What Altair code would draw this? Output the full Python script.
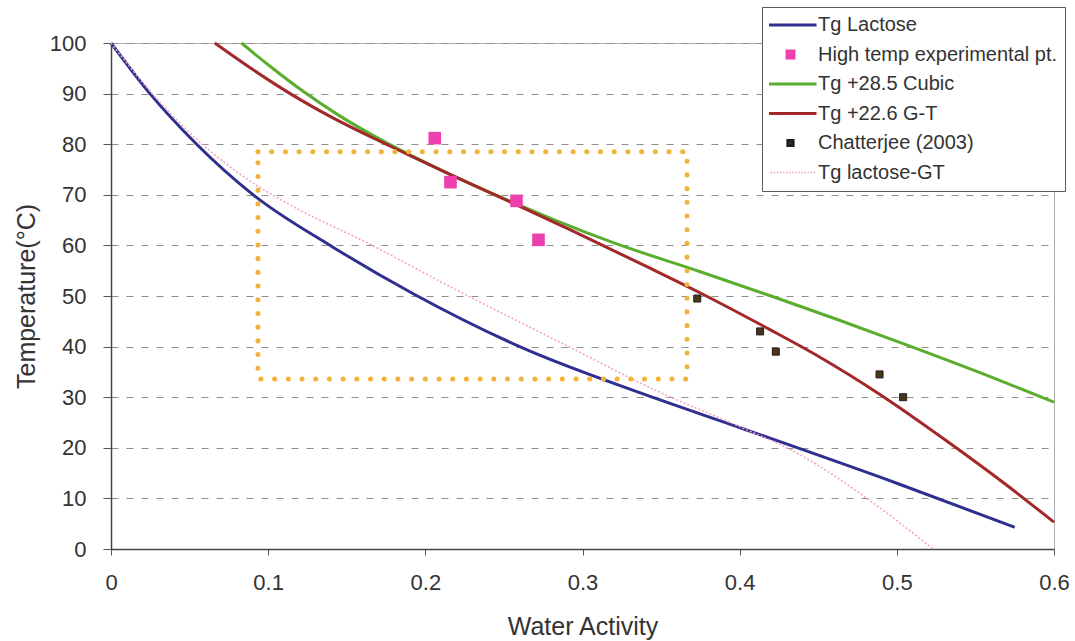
import altair as alt
import pandas as pd

# Glass transition curves: water activity vs temperature (°C)
aw_tg_lactose = [0.0, 0.0248, 0.0545, 0.0905, 0.141, 0.192, 0.26, 0.34, 0.4, 0.5, 0.575]
t_tg_lactose = [100, 90, 80, 70, 59.7, 50.5, 40, 30.5, 24, 13, 4.3]

aw_cubic = [0.083, 0.1, 0.122, 0.145, 0.171, 0.216, 0.258, 0.284, 0.32, 0.375, 0.42, 0.504, 0.55, 0.6]
t_cubic = [100, 95.7, 90.5, 85.7, 81, 74, 68.2, 64.8, 60.5, 54.8, 50, 40.6, 35.2, 29]

aw_gt_shift = [0.066, 0.09, 0.114, 0.14, 0.171, 0.188, 0.216, 0.258, 0.294, 0.343, 0.375, 0.419, 0.45, 0.489, 0.532, 0.57, 0.6]
t_gt_shift = [100, 94.8, 90, 85.4, 80.6, 78.1, 74, 68, 62.8, 55.5, 50.6, 43.4, 38.1, 30.6, 21.3, 12.6, 5.3]

aw_lactose_gt = [0.0, 0.0248, 0.0545, 0.092, 0.114, 0.163, 0.224, 0.288, 0.349, 0.399, 0.438, 0.481, 0.523]
t_lactose_gt = [100, 90.5, 81, 72, 68, 60.5, 50.5, 40.5, 31, 24.3, 18.7, 10.0, 0]

# Measured points
aw_high_temp = [0.206, 0.216, 0.258, 0.272]
t_high_temp = [81.2, 72.5, 68.8, 61.1]

aw_chatterjee = [0.373, 0.413, 0.423, 0.489, 0.504]
t_chatterjee = [49.5, 43.0, 39.0, 34.5, 30.0]

# Highlighted processing window
box_aw = [0.0935, 0.3665]
box_t = [33.6, 78.5]

series_names = [
    "Tg Lactose",
    "High temp experimental pt.",
    "Tg +28.5 Cubic",
    "Tg +22.6 G-T",
    "Chatterjee (2003)",
    "Tg lactose-GT",
]
BLUE, PINK, GREEN, RED, BROWN, LIGHT_PINK = (
    "#2f2f8f", "#ee3fae", "#5aad2e", "#a3282a", "#4a3418", "#f2a0c4")
OUTLINE = "#1e1e1e"

x_ticks = [0, 0.1, 0.2, 0.3, 0.4, 0.5, 0.6]
y_ticks = [0, 10, 20, 30, 40, 50, 60, 70, 80, 90, 100]

FONT = "Liberation Sans"
TEXT = "#333333"

# Symbol outlines (unit square space, scaled by the legend/mark size)
LINE_SYMBOL = "M-1,0H1"
BIG_SQUARE = "M-0.19,-0.19H0.19V0.19H-0.19Z"
SMALL_SQUARE = "M-0.1,-0.1H0.1V0.1H-0.1Z"
DOTS_SYMBOL = " ".join(
    f"M{-1 + k * 0.118:.3f},-0.03h0.06v0.06h-0.06Z" for k in range(17)
)


def frame(name, xs, ys):
    return pd.DataFrame({"series": name, "aw": xs, "T": ys})


solid_lines = pd.concat([
    frame(series_names[0], aw_tg_lactose, t_tg_lactose),
    frame(series_names[2], aw_cubic, t_cubic),
    frame(series_names[3], aw_gt_shift, t_gt_shift),
])
dotted_line = frame(series_names[5], aw_lactose_gt, t_lactose_gt)
high_temp = frame(series_names[1], aw_high_temp, t_high_temp)
chatterjee = frame(series_names[4], aw_chatterjee, t_chatterjee)
window = pd.DataFrame({"aw": [box_aw[0]], "aw_end": [box_aw[1]],
                       "T": [box_t[0]], "T_end": [box_t[1]]})

x_enc = alt.X(
    "aw:Q",
    title="Water Activity",
    scale=alt.Scale(domain=[0, 0.6], nice=False, zero=False),
    axis=alt.Axis(
        values=x_ticks,
        labelExpr="datum.value == 0 ? '0' : format(datum.value, '.1f')",
        grid=False,
        tickSize=6,
        tickColor="#555555",
        domainColor="#444444",
        domainWidth=1.5,
        labelFont=FONT,
        labelFontSize=22,
        labelColor=TEXT,
        labelPadding=17,
        labelFlush=False,
        titleFont=FONT,
        titleFontSize=25,
        titleFontWeight="normal",
        titleColor=TEXT,
        titlePadding=21,
    ),
)
y_enc = alt.Y(
    "T:Q",
    title="Temperature(°C)",
    scale=alt.Scale(domain=[0, 100], nice=False),
    axis=alt.Axis(
        values=y_ticks,
        grid=True,
        gridDash=[7, 8],
        gridColor="#8f8f8f",
        gridWidth=1,
        tickSize=8,
        tickColor="#555555",
        domainColor="#444444",
        domainWidth=1.5,
        labelFont=FONT,
        labelFontSize=22,
        labelColor=TEXT,
        labelPadding=17,
        labelFlush=False,
        titleFont=FONT,
        titleFontSize=25,
        titleFontWeight="normal",
        titleColor=TEXT,
        titlePadding=10,
    ),
)


def make_legend():
    return alt.Legend(
        title=None,
        orient="none",
        legendX=651,
        legendY=-36,
        direction="vertical",
        fillColor="white",
        strokeColor="#5a5a5a",
        padding=7,
        symbolSize=2704,
        symbolStrokeWidth=3,
        symbolOffset=-6,
        labelOffset=0,
        clipHeight=22,
        rowPadding=7.5,
        labelFont=FONT,
        labelFontSize=20,
        labelColor=TEXT,
        labelLimit=400,
    )


stroke_enc = alt.Stroke(
    "series:N",
    scale=alt.Scale(domain=series_names,
                    range=[BLUE, "transparent", GREEN, RED, OUTLINE, "transparent"]),
    legend=make_legend(),
)
fill_enc = alt.Fill(
    "series:N",
    scale=alt.Scale(domain=series_names,
                    range=["transparent", PINK, "transparent", "transparent", BROWN, LIGHT_PINK]),
    legend=make_legend(),
)
shape_enc = alt.Shape(
    "series:N",
    scale=alt.Scale(domain=series_names,
                    range=[LINE_SYMBOL, BIG_SQUARE, LINE_SYMBOL, LINE_SYMBOL, SMALL_SQUARE, DOTS_SYMBOL]),
    legend=make_legend(),
)

lines = alt.Chart(solid_lines).mark_line(strokeWidth=3, interpolate="monotone").encode(
    x=x_enc, y=y_enc, stroke=stroke_enc, detail="series:N"
)
dotted = alt.Chart(dotted_line).mark_line(
    stroke=LIGHT_PINK, strokeWidth=1.5, strokeDash=[2, 2], interpolate="monotone"
).encode(x=x_enc, y=y_enc)

high_pts = alt.Chart(high_temp).mark_point(
    filled=True, size=4400, opacity=1, strokeWidth=0
).encode(x=x_enc, y=y_enc, fill=fill_enc, stroke=stroke_enc, shape=shape_enc)
chat_pts = alt.Chart(chatterjee).mark_point(
    filled=True, size=4900, opacity=1, strokeWidth=1
).encode(x=x_enc, y=y_enc, fill=fill_enc, stroke=stroke_enc, shape=shape_enc)

box = alt.Chart(window).mark_rect(
    fillOpacity=0,
    stroke="#f2b33d",
    strokeWidth=5,
    strokeDash=[0.1, 13.6],
    strokeCap="round",
).encode(x=x_enc, x2="aw_end:Q", y=y_enc, y2="T_end:Q")

chart = (
    alt.layer(lines, dotted, high_pts, chat_pts, box)
    .properties(
        width=943,
        height=506,
        background="white",
        padding={"left": 111, "top": 43, "right": 21, "bottom": 92},
        autosize=alt.AutoSizeParams(type="none"),
    )
    .configure_view(stroke="#b0b0b0", strokeWidth=1)
)

chart.save("out.html", embed_options={"renderer": "svg", "actions": False})
